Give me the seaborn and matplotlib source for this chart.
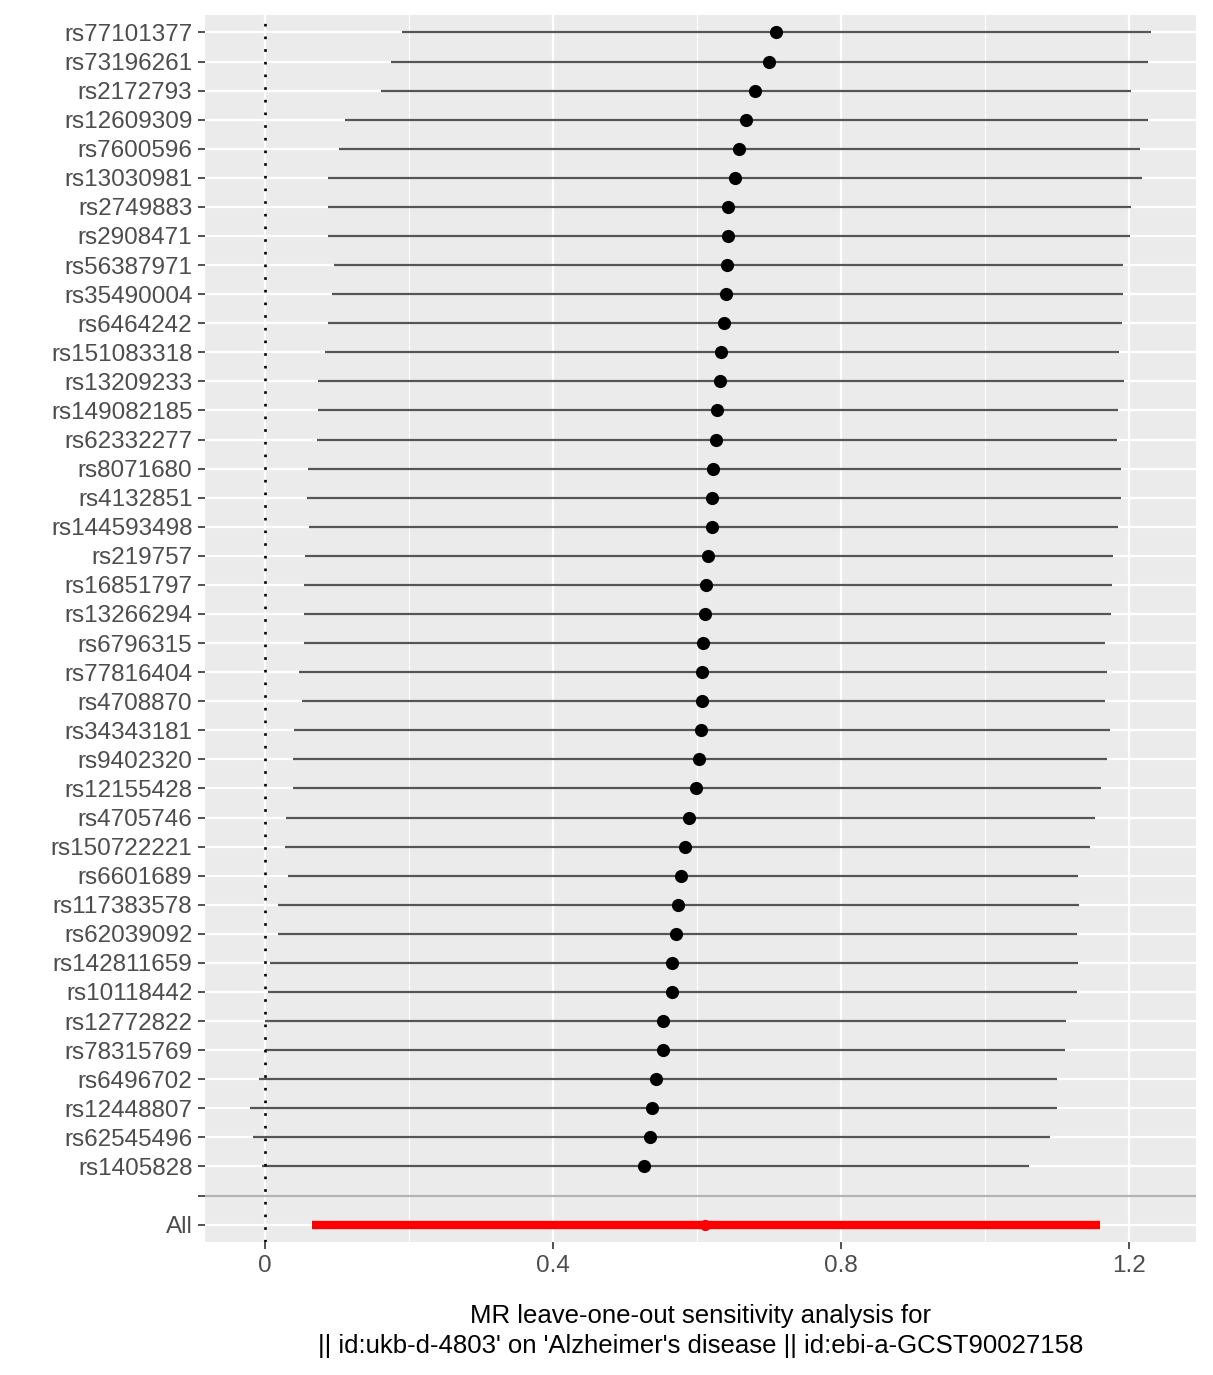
import numpy as np
import pandas as pd
import seaborn as sns
import matplotlib.pyplot as plt

snps = [
    "rs77101377", "rs73196261", "rs2172793", "rs12609309", "rs7600596",
    "rs13030981", "rs2749883", "rs2908471", "rs56387971", "rs35490004",
    "rs6464242", "rs151083318", "rs13209233", "rs149082185", "rs62332277",
    "rs8071680", "rs4132851", "rs144593498", "rs219757", "rs16851797",
    "rs13266294", "rs6796315", "rs77816404", "rs4708870", "rs34343181",
    "rs9402320", "rs12155428", "rs4705746", "rs150722221", "rs6601689",
    "rs117383578", "rs62039092", "rs142811659", "rs10118442", "rs12772822",
    "rs78315769", "rs6496702", "rs12448807", "rs62545496", "rs1405828",
]
b = [
    0.710, 0.700, 0.681, 0.668, 0.658, 0.653, 0.643, 0.643, 0.642, 0.640,
    0.638, 0.633, 0.632, 0.628, 0.626, 0.622, 0.621, 0.621, 0.615, 0.613,
    0.611, 0.608, 0.607, 0.607, 0.606, 0.603, 0.599, 0.589, 0.583, 0.578,
    0.574, 0.571, 0.565, 0.565, 0.553, 0.553, 0.543, 0.538, 0.535, 0.526,
]
lo = [
    0.190, 0.175, 0.161, 0.111, 0.103, 0.088, 0.088, 0.088, 0.096, 0.093,
    0.088, 0.083, 0.074, 0.074, 0.072, 0.060, 0.058, 0.061, 0.056, 0.054,
    0.054, 0.054, 0.047, 0.051, 0.040, 0.039, 0.039, 0.029, 0.028, 0.032,
    0.019, 0.019, 0.007, 0.004, 0.000, 0.000, -0.008, -0.021, -0.017, -0.004,
]
hi = [
    1.231, 1.226, 1.203, 1.226, 1.215, 1.218, 1.203, 1.201, 1.192, 1.192,
    1.190, 1.186, 1.193, 1.185, 1.183, 1.189, 1.189, 1.185, 1.178, 1.176,
    1.175, 1.167, 1.169, 1.167, 1.174, 1.169, 1.161, 1.153, 1.146, 1.129,
    1.131, 1.128, 1.129, 1.128, 1.113, 1.111, 1.100, 1.100, 1.090, 1.061,
]
all_b, all_lo, all_hi = 0.611, 0.065, 1.160

xlabel = ("MR leave-one-out sensitivity analysis for\n"
          "|| id:ukb-d-4803' on 'Alzheimer's disease || id:ebi-a-GCST90027158")

sns.set_theme(style="darkgrid", rc={
    "axes.facecolor": "#EBEBEB",
    "grid.color": "white",
})
plt.rcParams["font.family"] = ["Liberation Sans", "DejaVu Sans"]

df = pd.DataFrame({"snp": snps, "b": b, "lo": lo, "hi": hi})
df["pos"] = np.arange(len(df))
sep_pos = len(df)
all_pos = len(df) + 1

fig = plt.figure(figsize=(12.13, 13.75), dpi=100)
ax = fig.add_axes([0.169, 0.0967, 0.817, 0.8924])

ax.hlines(df["pos"], df["lo"], df["hi"], color="#555555", lw=1.6, zorder=3)
sns.scatterplot(data=df, x="b", y="pos", color="black", s=90, linewidth=0,
                ax=ax, zorder=4)

ax.axhline(sep_pos, color="#B3B3B3", lw=1.6, zorder=2)
ax.hlines([all_pos], [all_lo], [all_hi], color="#FF0000", lw=6, zorder=3)
ax.scatter([all_b], [all_pos], color="#FF0000", s=65, linewidth=0, zorder=4)

ax.axvline(0, color="black", lw=1.9, linestyle=(0, (1, 3.8)), zorder=5)

ax.set_xlim(-0.083, 1.293)
ax.set_ylim(all_pos + 0.6, -0.6)
ax.set_xticks([0, 0.4, 0.8, 1.2])
ax.set_xticklabels(["0", "0.4", "0.8", "1.2"])
ax.set_xticks([0.2, 0.6, 1.0], minor=True)
ax.set_yticks(list(df["pos"]) + [sep_pos, all_pos])
ax.set_yticklabels(snps + ["", "All"])

ax.grid(which="major", color="white", lw=1.6)
ax.grid(which="minor", axis="x", color="white", lw=0.8)
for s in ax.spines.values():
    s.set_visible(False)

ax.tick_params(axis="both", which="major", length=5, width=1.2, color="#333333",
               labelsize=17.5, labelcolor="#4D4D4D", left=True, bottom=True, pad=4)
ax.tick_params(axis="both", which="minor", length=0)
ax.set_xlabel(xlabel, fontsize=18.5, color="black", labelpad=20, linespacing=1.3)
ax.set_ylabel("")

plt.savefig("out.png", dpi=100)
plt.close()
